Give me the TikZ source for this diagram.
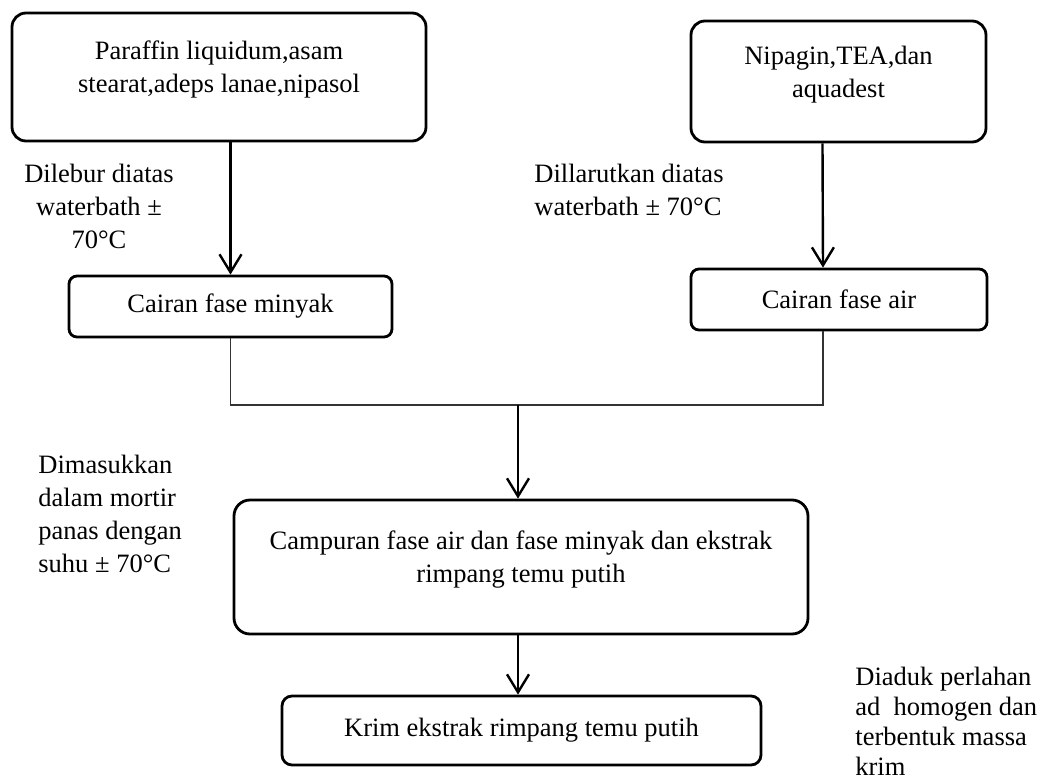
\documentclass[tikz,border=0pt]{standalone}
\usepackage{fontspec}
\setmainfont{Liberation Serif}
\usetikzlibrary{arrows.meta,positioning}

\begin{document}
\begin{tikzpicture}[x=0.5pt,y=-0.5pt,
  font=\fontsize{13.25}{16.5}\selectfont,
  box/.style={draw,line width=1.4pt,align=center},
  note/.style={inner sep=0pt,anchor=west,align=left},
  arr/.style={line width=1.2pt,-{Straight Barb[length=9pt,width=11pt,line width=1.2pt]}},
  joinline/.style={line width=0.6pt,black!80}]
\useasboundingbox (0,0) rectangle (1040,782);
% bahan fase minyak dan fase air
\node[box,rounded corners=7pt,minimum width=207pt,minimum height=64pt,text height=15pt,text depth=0pt] (oil) at (219,77) {Paraffin liquidum,asam\\stearat,adeps lanae,nipasol};
\node[box,rounded corners=7pt,minimum width=147.5pt,minimum height=60.5pt,text height=15.5pt,text depth=0pt] (water) at (838.5,81.5) {Nipagin,TEA,dan\\aquadest};
\node[box,rounded corners=4pt,minimum width=161.5pt,minimum height=30.5pt] (minyak) at (230.5,306.5) {Cairan fase minyak};
\node[box,rounded corners=4pt,minimum width=148pt,minimum height=30.5pt] (air) at (839,299.5) {Cairan fase air};
\draw[arr] (oil.south -| minyak) -- (minyak.north);
\draw[arr] ([xshift=-8pt]water.south) -- ([xshift=-8pt]air.north);
\node[align=center] (lebur) at (99,206) {Dilebur diatas\\waterbath ±\\70°C};
\node[note] (larut) at (534,190) {Dillarutkan diatas\\waterbath ± 70°C};
% pencampuran
\coordinate (merge) at (518,405);
\draw[joinline] (minyak.south) |- (merge);
\draw[joinline] ([xshift=-8pt]air.south) |- (merge);
\node[box,rounded corners=8pt,minimum width=287pt,minimum height=67pt,text height=15pt,text depth=0pt] (campur) at (521,567) {Campuran fase air dan fase minyak dan ekstrak\\rimpang temu putih};
\draw[arr] (merge) -- (merge |- campur.north);
\node[note] (masuk) at (38,513.5) {Dimasukkan\\dalam mortir\\panas dengan\\suhu ± 70°C};
% hasil
\node[box,rounded corners=5pt,minimum width=239.5pt,minimum height=34.5pt] (krim) at (521.5,730.5) {Krim ekstrak rimpang temu putih};
\draw[arr] (campur.south -| merge) -- (krim.north -| merge);
\node[note,font=\fontsize{13.25}{15}\selectfont] (aduk) at (855,721) {Diaduk perlahan\\ad\ \ homogen dan\\terbentuk massa\\krim};
\end{tikzpicture}
\end{document}
